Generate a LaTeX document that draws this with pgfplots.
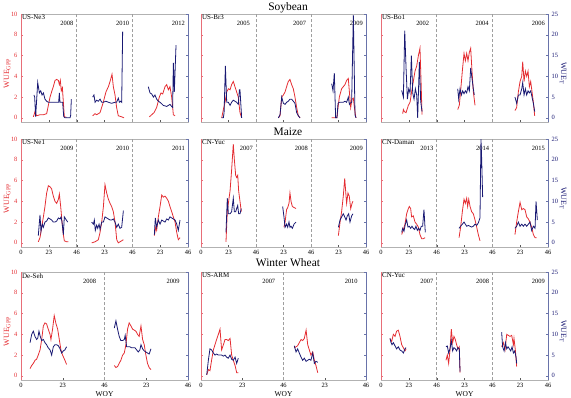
\documentclass[border=0pt]{standalone}
\usepackage{pgfplots}
\pgfplotsset{compat=1.18}
\usepackage{fontspec}
\setmainfont{Liberation Serif}
\definecolor{wred}{RGB}{228,45,50}
\definecolor{wblue}{RGB}{25,25,115}
\definecolor{spred}{RGB}{232,110,120}
\definecolor{spblue}{RGB}{105,115,170}
\newcommand{\tf}{\fontsize{6.5}{7}\selectfont}
\pgfplotsset{
 panel/.style={scale only axis, height=108bp, anchor=south west,
   /pgf/number format/assume math mode=true,
   tick label style={font=\tf}, tick align=inside, major tick length=2bp},
 L/.style={panel, ymin=-0.4, ymax=10, ytick={0,2,...,10}, ytick pos=left, xtick pos=bottom,
   axis line style={gray!60, line width=0.5bp}, yticklabel style={wred}, ytick style={spred},
   xtick style={gray!70!black},
   extra x tick labels={},
   extra x tick style={grid=major, major grid style={gray!75, densely dashed, line width=0.5bp}, major tick length=0pt}},
 R/.style={panel, ymin=-1, ymax=25, ytick={0,5,...,25}, axis y line*=right, axis x line=none,
   y axis line style={spblue, line width=0.6bp}, ytick style={spblue}, yticklabel style={wblue}},
 three/.style={xmin=0, xmax=138, xtick={0,23,...,138}, extra x ticks={46,92}},
 two/.style={xmin=0, xmax=92, xtick={0,23,...,92}, extra x ticks={46}},
 lab3/.style={xticklabels={0,23,46,23,46,23,46}},
 lab2/.style={xticklabels={0,23,46,23,46}},
 nolab/.style={xticklabels={}},
 gpp/.style={ylabel={WUE\textsubscript{GPP}}, ylabel style={at={(axis description cs:-0.083,0.45)}, anchor=center, wred, font=\fontsize{8}{9}\selectfont}},
 wuet/.style={ylabel={WUE\textsubscript{T}}, ylabel style={at={(axis description cs:1.09,0.45)}, anchor=center, rotate=180, wblue, font=\fontsize{8}{9}\selectfont}},
 rl/.style={wred, line width=0.8bp},
 bl/.style={wblue, line width=0.8bp},
 s2/.style={x filter/.expression={x+46}},
 s3/.style={x filter/.expression={x+92}},
}
\newcommand{\site}[1]{\node[anchor=north west, font=\fontsize{7}{8}\selectfont, inner sep=1bp] at (rel axis cs:0,1) {#1};}
\newcommand{\yr}[2]{\node[anchor=north east, font=\tf, inner sep=0pt] at (axis cs:#1,9.3) {#2};}
\newcommand{\redspine}{\draw[spred, line width=0.6bp] (rel axis cs:0,0) -- (rel axis cs:0,1);}
\begin{document}
\begin{tikzpicture}
\useasboundingbox (0,0) rectangle (571bp,-398bp);
\node[font=\fontsize{11.5}{13}\selectfont] at (288bp,-8bp) {Soybean};
\node[font=\fontsize{11.5}{13}\selectfont] at (288bp,-132bp) {Maize};
\node[font=\fontsize{11.5}{13}\selectfont] at (288bp,-263bp) {Winter Wheat};

%%%%%%%%%%%% ROW 1 %%%%%%%%%%%%
% US-Ne3
\begin{axis}[L, three, nolab, gpp, at={(21bp,-122bp)}, width=167bp]
\addplot[rl] coordinates {(10.2,0.1)(11.6,0.6)(12.9,0.2)(15.7,0.3)(18.5,0.3)(21.2,0.4)(22.6,1.2)(24,2.0)(25.3,2.5)(26.7,3.0)(28.1,3.6)(29.5,3.7)(30.9,3.6)(31.7,3.2)(32.5,3.6)(33.3,2.6)(34.2,2.9)(35,1.5)(35.8,0.1)(37.7,0.05)};
\addplot[rl,s2] coordinates {(13.2,0.2)(15.2,0.4)(16.5,0.3)(19.3,0.5)(22,1.5)(24.2,2.5)(26.2,3.0)(27.6,3.5)(29.2,4.2)(30.3,3.0)(31.7,2.2)(33,1.0)(34.4,0.2)(37.2,0.1)(39.1,0.0)};
\addplot[rl,s3] coordinates {(14.1,0.1)(16,0.3)(17.9,0.5)(20.1,1.0)(22.3,2.0)(23.7,2.4)(25.1,2.3)(27,3.0)(28.4,3.2)(29.8,2.7)(31.1,3.0)(32.5,2.0)(33.9,0.3)(35.3,0.2)};
\site{US-Ne3}\yr{43.5}{2008}\yr{89.5}{2010}\yr{135.5}{2012}
\redspine
\end{axis}
\begin{axis}[R, three, at={(21bp,-122bp)}, width=167bp, yticklabels={}]
\addplot[bl] coordinates {(10.7,5.5)(11.3,5.0)(12.1,0.3)(13.8,8.5)(15.2,6.0)(16.3,6.5)(17.4,5.5)(18.5,6.0)(19.8,4.5)(21.2,4.0)(22.6,3.75)(26.7,3.75)(29.5,3.75)(31.1,3.75)(31.7,6.0)(32.2,3.75)(34.4,3.75)(35.3,0.3)(36.4,0)(40.5,0)(41,0.5)(41.6,4.5)};
\addplot[bl,s2] coordinates {(13.2,5.0)(14.3,5.5)(15.2,3.75)(16.5,4.25)(17.9,4.0)(19.3,4.5)(20.7,3.75)(22,3.75)(24.2,4.0)(26.2,3.75)(28.9,3.5)(31.7,3.75)(33,3.75)(34.4,4.75)(35.3,3.75)(36.4,4.0)(37.2,3.75)(38,20.75)};
\addplot[bl,s3] coordinates {(13.2,7.5)(14.6,6.0)(16,5.75)(17.4,5.0)(18.7,5.5)(20.1,4.5)(21.5,4.0)(22.9,3.75)(25.6,3.0)(28.4,2.75)(29.8,3.0)(31.1,3.25)(32.5,2.75)(33.3,2.5)(33.9,13.25)(34.7,6.25)(36.1,17.5)};
\end{axis}

% US-Br3
\begin{axis}[L, three, nolab, at={(201bp,-122bp)}, width=165bp, yticklabels={}]
\addplot[rl] coordinates {(17.3,0)(18.7,0.8)(20.1,1.5)(21.5,2.5)(22.9,2.8)(24.3,2.7)(25.6,3.2)(27,3.5)(28.4,3.0)(29.8,2.5)(31.2,2.0)(32.6,0.5)(34,0)};
\addplot[rl,s2] coordinates {(18.7,0)(20.1,0.2)(21.5,2.0)(22.9,2.2)(24.3,2.5)(25.6,3.0)(27,3.5)(28.4,3.7)(29.8,3.2)(31.2,2.8)(32.6,2.0)(34,1.0)(35.4,0.2)(36.8,0)};
\addplot[rl,s3] coordinates {(17.3,0)(21.7,0)(22.6,1.0)(23.7,2.0)(25.6,2.8)(27,3.0)(28.4,3.2)(29.8,3.6)(31.2,3.8)(32.1,2.5)(33.2,1.0)(34.3,1.8)(35.4,1.9)(36.5,0.8)(37.6,0)};
\site{US-Br3}\yr{41}{2005}\yr{88}{2007}\yr{135.5}{2009}
\redspine
\end{axis}
\begin{axis}[R, three, at={(201bp,-122bp)}, width=165bp, yticklabels={}]
\addplot[bl] coordinates {(17.3,0)(18.7,0)(19.3,1.25)(20.4,12.5)(21.5,3.75)(22.9,3.75)(24.3,3.0)(25.6,3.75)(27,4.25)(28.4,4.0)(29.8,3.75)(31.2,3.25)(32.1,6.75)(32.6,6.75)(34,0)};
\addplot[bl,s2] coordinates {(18.7,0)(20.1,0.75)(21.5,5.0)(22.9,3.5)(24.3,3.25)(25.6,3.75)(27,4.0)(28.4,4.5)(29.8,4.5)(31.2,4.0)(32.6,3.5)(34,1.25)(35.4,0.5)(36.8,0)};
\addplot[bl,s3] coordinates {(17.3,8.25)(18.4,6.5)(19.5,10.75)(20.6,0)(21.7,0)(22.6,3.5)(23.7,3.75)(25.6,3.75)(27,3.75)(28.4,4.0)(29.8,3.75)(31.2,5.0)(32.1,3.25)(32.6,3.5)(34,3.75)(35.4,24.75)(36.8,0.75)(37.6,0)};
\end{axis}

% US-Bo1
\begin{axis}[L, three, nolab, at={(381bp,-122bp)}, width=167bp, yticklabels={}]
\addplot[rl] coordinates {(17.9,0.4)(18.5,0.8)(19.3,0.6)(20.7,0.5)(22.6,1.2)(24,1.5)(25.3,2.5)(26.7,3.5)(28.1,4.5)(29.5,5.0)(30.9,6.0)(32.2,6.7)(33.1,3.5)(33.9,0.3)};
\addplot[rl,s2] coordinates {(17.4,0.8)(18.7,1.2)(20.1,3.0)(21.2,4.5)(22.6,6.2)(23.7,5.5)(24.8,6.2)(25.9,5.5)(27,6.3)(28.1,6.7)(29.2,4.5)(30.3,2.5)(31.7,1.2)};
\addplot[rl,s3] coordinates {(18.7,0.7)(20.1,1.0)(21.5,2.5)(22.9,3.5)(24.3,4.0)(25.1,5.4)(26.2,3.5)(27.3,4.5)(28.4,4.0)(29.5,4.5)(30.6,3.0)(31.7,3.5)(32.8,2.5)(33.9,1.5)(35,0.2)};
\site{US-Bo1}\yr{40}{2002}\yr{89}{2004}\yr{135.5}{2006}
\redspine
\end{axis}
\begin{axis}[R, three, wuet, at={(381bp,-122bp)}, width=167bp]
\addplot[bl] coordinates {(17.1,6.6)(18.5,5.0)(19.6,21.0)(20.7,12.0)(21.8,4.5)(22.9,7.0)(24,6.0)(25.1,15.0)(26.2,6.0)(27.3,4.5)(28.4,7.0)(29.5,5.5)(30.3,0.0)(31.7,13.5)(32.8,4.0)(33.9,1.5)};
\addplot[bl,s2] coordinates {(17.4,7.0)(18.2,4.5)(19.3,7.0)(20.4,5.5)(21.5,6.5)(22.6,5.8)(23.7,6.5)(24.8,6.0)(25.9,7.5)(27,6.5)(28.1,12.0)(29.2,9.5)(30.3,7.0)(31.1,5.5)};
\addplot[bl,s3] coordinates {(18.7,5.0)(20.1,3.5)(21.5,5.5)(22.9,5.5)(24.3,7.0)(25.1,8.5)(26.2,5.5)(27.3,7.0)(28.4,5.5)(29.5,6.5)(30.6,6.0)(31.7,6.5)(32.8,5.0)(33.9,3.5)(35,1.5)};
\end{axis}

%%%%%%%%%%%% ROW 2 %%%%%%%%%%%%
% US-Ne1
\begin{axis}[L, three, lab3, gpp, at={(21bp,-247bp)}, width=167bp]
\addplot[rl] coordinates {(14.3,0.1)(15.7,0.5)(17.1,1.5)(18.5,2.5)(19.8,3.5)(21.2,4.8)(22.6,5.5)(24,5.4)(25.3,5.2)(26.7,4.5)(28.1,4.0)(29.5,3.8)(30.9,4.2)(31.7,4.7)(32.8,3.5)(33.9,2.0)(35,0.8)(35.8,0.2)(37.7,0.1)(39.1,0.1)};
\addplot[rl,s2] coordinates {(12.4,0)(15.2,0.1)(17.9,0.3)(19.3,1.0)(20.7,2.0)(22.1,3.5)(23.4,5.6)(24.8,4.8)(26.2,4.2)(27.6,3.8)(28.9,3.5)(30.3,3.0)(31.7,2.0)(33.1,0.3)(34.4,0.0)(37.2,0.2)(38.6,0.3)};
\addplot[rl,s3] coordinates {(18.2,0.7)(19.3,1.5)(20.1,1.2)(21.5,2.5)(22.9,3.5)(24.3,4.6)(25.6,4.4)(27,4.5)(28.4,4.3)(29.8,4.0)(31.1,3.5)(32.5,3.0)(33.9,2.5)(35.3,2.0)(36.7,1.0)(38,0.3)(39.4,0.5)};
\site{US-Ne1}\yr{43.5}{2009}\yr{89.5}{2010}\yr{135.5}{2011}
\redspine
\end{axis}
\begin{axis}[R, three, at={(21bp,-247bp)}, width=167bp, yticklabels={}]
\addplot[bl] coordinates {(14.3,1.75)(15.7,6.75)(16.5,2.75)(17.6,4.5)(18.5,3.75)(19.8,5.0)(21.2,5.25)(22.6,6.0)(24,5.75)(25.3,5.5)(26.7,5.0)(28.1,5.0)(29.5,5.25)(30.9,6.0)(32.2,5.75)(33.1,6.25)(33.9,5.0)(35,2.0)(35.8,6.25)(36.9,5.75)(38.6,5.0)};
\addplot[bl,s2] coordinates {(12.4,5.0)(13.8,4.5)(14.6,5.5)(15.4,3.0)(16.5,4.25)(17.4,3.5)(18.5,4.5)(19.3,3.25)(20.7,5.0)(22.1,5.0)(23.4,6.25)(24.8,6.0)(26.2,5.75)(27.6,5.5)(28.9,5.5)(30.3,5.75)(31.7,5.0)(33.1,3.75)(34.4,4.5)(35.8,3.5)(37.2,3.75)(38.6,7.75)};
\addplot[bl,s3] coordinates {(18.2,2.0)(19,6.0)(20.1,3.75)(21.5,5.5)(22.9,4.5)(24.3,5.5)(25.6,5.25)(27,5.0)(28.4,5.75)(29.8,5.5)(31.1,6.25)(32.5,6.0)(33.9,5.75)(35.3,5.5)(36.7,4.5)(38,3.0)(39.4,5.5)};
\end{axis}

% CN-Yuc maize
\begin{axis}[L, three, lab3, at={(201bp,-247bp)}, width=165bp, yticklabels={}]
\addplot[rl] coordinates {(20.9,0.1)(22,3.0)(23.1,4.0)(24.3,5.0)(25.6,7.0)(27,9.5)(27.9,8.0)(29,6.5)(29.8,6.3)(30.7,6.5)(31.5,5.0)(32.6,4.0)(33.7,3.0)};
\addplot[rl,s2] coordinates {(23.4,1.5)(24.3,2.0)(25.6,3.2)(26.5,3.4)(27.6,3.8)(28.4,4.8)(29.3,4.0)(30.4,3.5)(31.8,3.4)(33.5,3.3)};
\addplot[rl,s3] coordinates {(22.9,0.7)(24.3,2.0)(25.6,3.0)(27,4.5)(28.2,6.2)(29.3,4.5)(29.8,3.8)(30.9,4.8)(32,4.5)(33.2,3.3)(34.3,3.8)(35.1,4.0)};
\site{CN-Yuc}\yr{43.5}{2007}\yr{89.5}{2008}\yr{135.5}{2009}
\redspine
\end{axis}
\begin{axis}[R, three, at={(201bp,-247bp)}, width=165bp, yticklabels={}]
\addplot[bl] coordinates {(20.9,2.5)(22,10.75)(22.9,7.0)(24.3,7.0)(25.6,7.5)(27,10.75)(27.9,7.5)(29,7.5)(29.8,8.25)(30.7,9.0)(31.5,7.0)(32.6,7.0)(33.7,8.25)};
\addplot[bl,s2] coordinates {(22.3,8.75)(23.4,6.25)(24.3,3.75)(25.6,4.5)(26.5,3.75)(27.6,5.0)(28.4,3.75)(29.3,4.0)(30.4,3.5)(31.8,4.5)(33.5,5.0)};
\addplot[bl,s3] coordinates {(22.9,3.75)(24.3,5.5)(25.6,6.25)(27,7.0)(28.2,6.25)(29.3,5.5)(30.4,6.5)(31.5,7.0)(32.6,5.0)(34,6.5)(35.1,7.0)};
\end{axis}

% CN-Daman
\begin{axis}[L, three, lab3, at={(381bp,-247bp)}, width=167bp, yticklabels={}]
\addplot[rl] coordinates {(17.1,0.8)(18.5,1.3)(19.8,1.8)(21.2,2.8)(22.6,3.3)(23.4,3.5)(24.5,3.3)(25.3,2.5)(26.7,2.6)(28.1,2.0)(29.5,1.8)(30.9,1.5)(32.2,0.8)(33.6,0.4)(35,0.4)(36.4,0.5)};
\addplot[rl,s2] coordinates {(18.5,0.5)(19.8,1.5)(21.2,3.0)(22.6,4.2)(23.7,3.8)(24.8,4.3)(25.6,3.5)(26.5,4.2)(27.6,3.5)(28.9,3.0)(30.3,2.8)(31.7,2.2)(33.1,1.5)(34.4,0.8)(35.8,0.2)};
\addplot[rl,s3] coordinates {(18.7,0.8)(20.1,2.0)(21.5,3.0)(22.9,3.9)(24.3,3.2)(25.6,3.3)(27,3.2)(28.4,2.5)(29.8,2.3)(31.1,2.0)(32.5,1.5)(33.9,0.8)(35.3,0.5)(36.6,0.5)};
\site{CN-Daman}\yr{43.5}{2013}\yr{89.5}{2014}\yr{135.5}{2015}
\redspine
\end{axis}
\begin{axis}[R, three, wuet, at={(381bp,-247bp)}, width=167bp]
\addplot[bl] coordinates {(17.1,2.5)(17.9,3.5)(19,2.8)(20.1,4.5)(21.2,5.5)(22.3,3.8)(23.4,4.0)(24.5,3.5)(25.6,4.0)(26.7,3.5)(27.8,3.2)(28.9,4.0)(30,3.0)(31.1,3.5)(32.2,3.0)(33.3,4.0)(34.4,4.0)(35.5,8.0)(36.6,2.5)};
\addplot[bl,s2] coordinates {(18.5,3.5)(19.8,4.0)(21.2,4.5)(22.6,5.0)(23.7,4.5)(24.8,4.0)(26.2,4.2)(27.6,4.0)(28.9,3.8)(30.3,4.0)(31.7,4.5)(33.1,4.2)(34.4,4.8)(35.8,6.0)(36.6,25.0)(37.2,20.0)(38,11.0)};
\addplot[bl,s3] coordinates {(18.7,3.5)(20.1,4.0)(21.5,5.0)(22.9,4.0)(24.3,4.5)(25.6,4.0)(27,4.5)(28.4,4.0)(29.8,4.5)(31.1,5.0)(32.5,3.0)(33.9,4.0)(35.3,3.5)(36.1,10.0)(37.2,5.5)};
\end{axis}

%%%%%%%%%%%% ROW 3 %%%%%%%%%%%%
% De-Seh
\begin{axis}[L, two, lab2, gpp, xlabel={WOY}, xlabel style={font=\fontsize{7.5}{8}\selectfont, yshift=3bp}, at={(21bp,-380bp)}, width=167bp]
\addplot[rl] coordinates {(5,0.7)(5.9,1.0)(6.8,1.2)(7.7,1.5)(8.6,1.6)(9.5,2.0)(10.5,2.5)(11.4,3.5)(12.3,4.8)(13.2,5.1)(14.1,5.0)(15,4.5)(16,4.0)(16.5,3.5)(17.4,4.5)(18.3,5.8)(19.3,5.0)(20.2,4.5)(21.1,3.5)(22,2.5)(22.9,2.0)(24.2,1.5)(25.1,1.1)};
\addplot[rl,s2] coordinates {(5.4,1.0)(6.3,0.8)(7.2,0.9)(8.1,1.2)(9,1.5)(10,2.0)(10.9,2.2)(11.8,3.0)(12.7,4.5)(13.6,5.1)(14.6,4.8)(15.5,4.5)(16.4,4.4)(17.3,4.3)(18.2,4.0)(19.1,3.8)(20.1,4.8)(21,3.5)(21.9,3.0)(22.8,2.0)(23.7,1.2)(24.6,0.8)(25.6,0.6)};
\site{De-Seh}\yr{41.5}{2008}\yr{87.5}{2009}
\redspine
\end{axis}
\begin{axis}[R, two, at={(21bp,-380bp)}, width=167bp, yticklabels={}]
\addplot[bl] coordinates {(5,8.0)(5.9,10.0)(6.8,10.75)(7.7,9.5)(8.6,8.75)(9.2,9.0)(9.9,10.75)(10.6,9.5)(11.4,8.5)(12.3,8.75)(13.2,8.0)(14.1,7.5)(15,6.75)(16,6.25)(16.9,5.0)(17.8,7.0)(18.7,7.5)(19.6,7.5)(20.6,7.25)(21.5,6.5)(22.4,5.5)(23.3,6.0)(24.2,6.25)(25.1,7.0)};
\addplot[bl,s2] coordinates {(5.4,11.5)(6.3,13.25)(7.2,11.25)(8.1,9.5)(9,8.5)(10,8.5)(10.9,8.75)(11.4,9.75)(12.2,7.0)(13.1,7.0)(14,7.0)(14.9,6.75)(15.8,6.75)(16.8,6.75)(17.7,6.25)(18.6,5.75)(19.5,6.25)(20.1,7.5)(21,6.5)(21.9,6.0)(22.8,5.75)(23.7,5.5)(24.6,5.25)(25.6,6.5)};
\end{axis}

% US-ARM
\begin{axis}[L, two, lab2, xlabel={WOY}, xlabel style={font=\fontsize{7.5}{8}\selectfont, yshift=3bp}, at={(201bp,-380bp)}, width=165bp, yticklabels={}]
\addplot[rl] coordinates {(3.2,0.1)(4.1,0.6)(5,0.5)(5.9,1.5)(6.9,2.5)(7.8,3.0)(8.7,3.5)(9.7,4.0)(10.6,4.5)(11.5,2.5)(12.5,3.0)(13.4,3.5)(14.3,3.5)(15.2,3.4)(16.2,3.6)(17.1,2.0)(18,1.5)(19,1.0)(19.9,0.3)(20.8,0.3)};
\addplot[rl,s2] coordinates {(6,2.7)(7,2.8)(7.9,2.9)(8.8,3.2)(9.8,3.5)(10.7,3.4)(11.6,3.6)(12.6,4.4)(13.5,3.0)(14.4,2.5)(15.3,2.0)(16.3,2.3)(17.2,1.5)(18.1,1.0)(19.1,0.3)};
\site{US-ARM}\yr{41.5}{2007}\yr{87.5}{2010}
\redspine
\end{axis}
\begin{axis}[R, two, at={(201bp,-380bp)}, width=165bp, yticklabels={}]
\addplot[bl] coordinates {(3.2,0.25)(4.1,3.75)(5,6.5)(5.9,6.25)(6.9,5.5)(7.8,5.0)(8.7,5.25)(9.7,5.0)(10.6,5.0)(11.5,5.0)(12.5,4.75)(13.4,5.0)(14.3,4.5)(15.2,4.25)(16.2,5.0)(17.1,4.0)(18,3.75)(19,4.5)(19.9,3.0)(20.8,4.25)};
\addplot[bl,s2] coordinates {(6,7.25)(7,5.75)(7.9,6.5)(8.8,5.5)(9.8,4.5)(10.7,3.75)(11.6,4.25)(12.6,3.5)(13.5,3.75)(14.4,4.0)(15.3,3.75)(16.3,5.5)(17.2,3.0)(18.1,3.5)(19.1,3.25)};
\end{axis}

% CN-Yuc wheat
\begin{axis}[L, three, lab3, xlabel={WOY}, xlabel style={font=\fontsize{7.5}{8}\selectfont, yshift=3bp}, at={(381bp,-380bp)}, width=167bp, yticklabels={}]
\addplot[rl] coordinates {(7.4,3.6)(8.8,3.3)(10.2,4.0)(11.6,3.8)(12.9,4.3)(14.3,4.4)(15.7,3.8)(17.1,3.0)(18.5,2.7)(19.8,2.4)(20.7,2.6)};
\addplot[rl,s2] coordinates {(7.7,1.5)(8.8,2.0)(9.9,1.2)(11,2.5)(12.1,4.5)(13.2,3.2)(14.3,3.8)(15.4,3.5)(16.5,3.0)(17.6,2.6)(18.7,2.8)(19.3,0.3)};
\addplot[rl,s3] coordinates {(7.7,2.8)(9.1,3.2)(10.5,2.5)(11.9,4.0)(13.2,3.9)(14.6,3.8)(16,3.9)(17.4,3.0)(17.9,3.6)(19,2.5)(20.1,0.9)};
\site{CN-Yuc}\yr{43.5}{2007}\yr{89.5}{2008}\yr{135.5}{2009}
\redspine
\end{axis}
\begin{axis}[R, three, wuet, at={(381bp,-380bp)}, width=167bp]
\addplot[bl] coordinates {(7.4,9.0)(8.3,8.0)(9.1,7.5)(10.2,8.0)(11.6,7.2)(12.9,6.5)(14.3,7.0)(15.7,6.2)(17.1,6.0)(18.5,5.5)(19.8,6.5)(20.7,6.8)};
\addplot[bl,s2] coordinates {(7.7,7.0)(8.8,7.2)(9.9,5.5)(11,6.5)(12.1,8.5)(13.2,6.0)(14.3,6.8)(15.4,6.5)(16.5,6.0)(17.6,6.8)(18.7,6.5)(19.3,1.0)};
\addplot[bl,s3] coordinates {(7.7,10.5)(8.5,7.0)(9.7,6.0)(10.8,8.0)(11.9,6.5)(13,7.0)(14.1,6.5)(15.2,6.0)(16.3,7.0)(17.4,5.5)(18.5,6.0)(19.6,4.5)(20.1,3.0)};
\end{axis}
\end{tikzpicture}
\end{document}
